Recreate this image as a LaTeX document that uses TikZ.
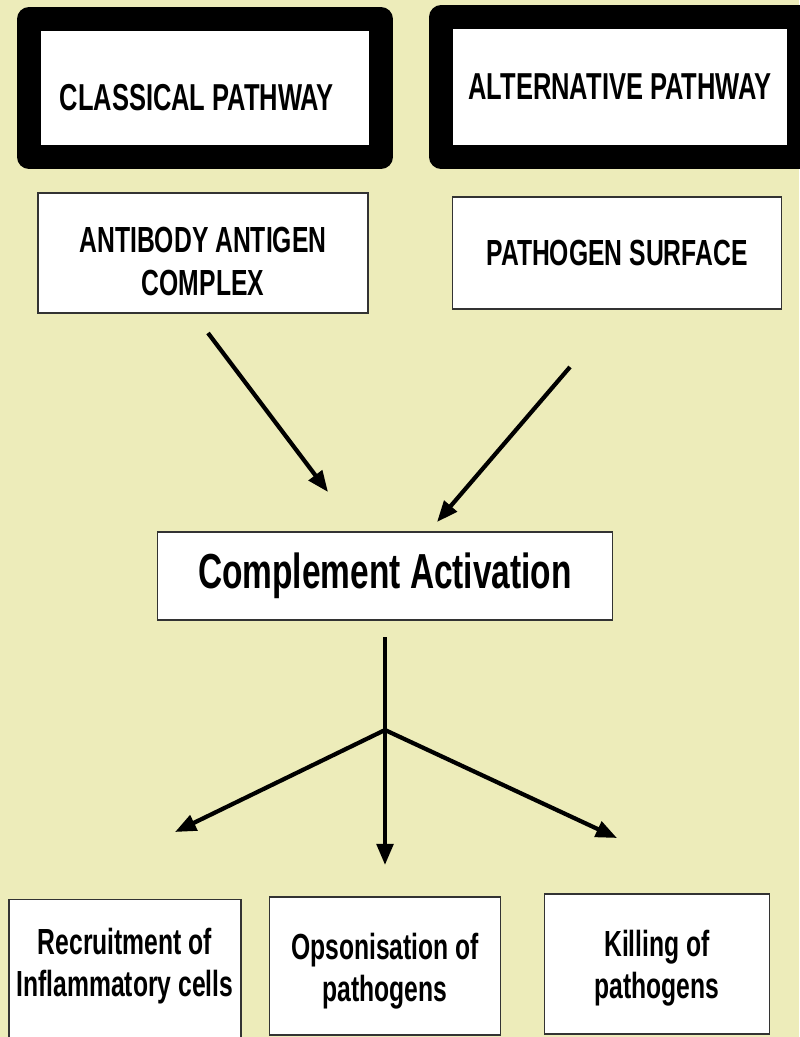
\documentclass[tikz,border=0pt]{standalone}
\usepackage{fontspec}
\setmainfont{Liberation Sans}[FakeStretch=0.68]
\usepackage{tikz}
\usetikzlibrary{positioning,arrows.meta}
\definecolor{cpwcream}{RGB}{237,236,186}
\tikzset{
  cpwpath/.style={rectangle, draw=black, fill=white, line width=0.72cm,
                  line join=round, inner sep=0pt,
                  font=\fontsize{32}{36}\selectfont\bfseries},
  cpwbox/.style={rectangle, draw=black!80, fill=white, line width=1.2pt,
                 inner sep=0pt, align=center},
  cpwtop/.style={font=\fontsize{31}{36}\selectfont\bfseries},
  cpwlow/.style={font=\fontsize{31}{36}\selectfont\bfseries},
  cpwflow/.style={draw=black, line width=3.6pt,
                  -{Triangle[length=18pt,width=14pt]}},
}

\begin{document}
\begin{tikzpicture}[x=0.03cm, y=-0.03cm]
  \fill[cpwcream] (0,0) rectangle (799,1037);
  \useasboundingbox (0,0) rectangle (799,1037);

  % the two pathways
  \node[cpwpath, minimum width=10.56cm, minimum height=4.13cm,
        text height=38pt] (cp) at (205,88) {CLASSICAL PATHWAY\kern14pt};
  \node[cpwpath, minimum width=10.71cm, minimum height=4.2cm] (ap) at (620,87) {ALTERNATIVE PATHWAY};

  % triggers
  \node[cpwbox, cpwtop, minimum width=9.9cm, minimum height=3.6cm] (ab) at (203,253)
       {\rule{0pt}{36pt}ANTIBODY ANTIGEN\\COMPLEX};
  \node[cpwbox, cpwtop, minimum width=9.87cm, minimum height=3.36cm] (ps) at (617,253) {PATHOGEN SURFACE};

  \node[cpwbox, font=\fontsize{42}{48}\selectfont\bfseries,
        minimum width=13.65cm, minimum height=2.64cm] (ca) at (385,576) {Complement Activation};

  % outcomes
  \node[cpwbox, cpwlow, minimum width=6.96cm, minimum height=4.35cm] (rec) at (125,972)
       {Recruitment of\\Inflammatory cells\rule[-16pt]{0pt}{0pt}};
  \node[cpwbox, cpwlow, minimum width=6.93cm, minimum height=4.14cm] (ops) at (385,966)
       {\rule{0pt}{31pt}Opsonisation of\\pathogens};
  \node[cpwbox, cpwlow, minimum width=6.75cm, minimum height=4.2cm] (kil) at (657,964)
       {\rule{0pt}{29pt}Killing of\\pathogens};

  \coordinate (abOut) at (208,333);
  \coordinate (psOut) at (570,367);
  \coordinate (caInL) at (328,492);
  \coordinate (caInR) at (437,522);
  \coordinate (caOut) at (385,637);
  \coordinate (split) at (385,730);
  \coordinate (recIn) at (175,832);
  \coordinate (opsIn) at (385,865);
  \coordinate (kilIn) at (617,838);

  \draw[cpwflow] (abOut) -- (caInL);
  \draw[cpwflow] (psOut) -- (caInR);
  \draw[cpwflow] (caOut) -- (opsIn);
  \draw[cpwflow] (split) -- (recIn);
  \draw[cpwflow] (split) -- (kilIn);
\end{tikzpicture}
\end{document}
